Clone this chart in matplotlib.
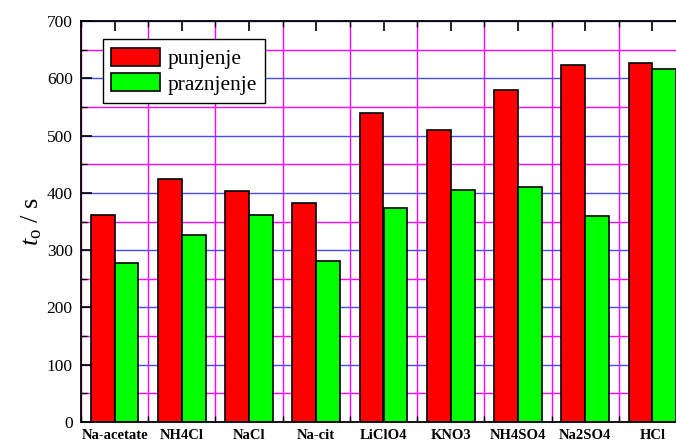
import numpy as np
import matplotlib
matplotlib.use("Agg")
from matplotlib import pyplot as plt
from matplotlib.ticker import MultipleLocator, FixedLocator

## Electrolyte names and times (s)
electrolytes = ["Na-acetate", "NH4Cl", "NaCl", "Na-cit", "LiClO4",
                "KNO3", "NH4SO4", "Na2SO4", "HCl"]
punjenje = [362, 424, 404, 383, 539, 510, 579, 624, 626]
praznjenje = [277, 327, 361, 281, 374, 405, 410, 360, 617]

plt.rcParams['font.family'] = 'Liberation Serif'
plt.rcParams['mathtext.fontset'] = 'custom'
plt.rcParams['mathtext.rm'] = 'Liberation Serif'
plt.rcParams['mathtext.it'] = 'Liberation Serif:italic'

fig = plt.figure(figsize=(6.76, 4.43), dpi=100)
## axes run a bit past the right edge of the figure
ax = fig.add_axes([81/676, 21/443, 605/676, 401/443])

x = np.arange(len(electrolytes))
w = 0.355
ax.bar(x - w/2, punjenje, w, color='#ff0000', edgecolor='black', linewidth=1.2, label='punjenje')
ax.bar(x + w/2, praznjenje, w, color='#00ff00', edgecolor='black', linewidth=1.2, label='praznjenje')

ax.set_xlim(-0.5, len(electrolytes) - 0.5)
ax.set_ylim(0, 700)
ax.set_xticks(x)
ax.set_xticklabels(electrolytes, fontweight='bold', fontsize=10.5)
ax.xaxis.set_minor_locator(FixedLocator(np.arange(-0.5, len(electrolytes), 1.0)))
ax.yaxis.set_major_locator(MultipleLocator(100))
ax.yaxis.set_minor_locator(MultipleLocator(50))

ax.set_axisbelow(True)
ax.grid(True, which='major', axis='y', color='#4848ff', linewidth=1.0)
ax.grid(True, which='minor', axis='y', color='#ff00ff', linewidth=1.0)
ax.grid(True, which='minor', axis='x', color='#ff00ff', linewidth=1.0)

ax.tick_params(axis='both', which='both', direction='in', top=True, right=True)
ax.tick_params(axis='y', which='major', length=8, width=1.2, labelsize=12.5, pad=6)
ax.tick_params(axis='y', which='minor', length=4, width=1.0)
ax.tick_params(axis='x', which='major', length=7, width=1.2, bottom=False, pad=5)
ax.tick_params(axis='x', which='minor', length=4, width=1.0)
for s in ax.spines.values():
    s.set_linewidth(1.3)

ax.set_ylabel(r'$t_\mathrm{o}$ / s', fontsize=19, labelpad=2)

ax.legend(loc='upper left', bbox_to_anchor=(0.036, 0.955), fontsize=15.5,
          frameon=True, fancybox=False, edgecolor='black', framealpha=1,
          handlelength=2.25, handleheight=0.9, borderpad=0.4,
          labelspacing=0.2, handletextpad=0.35, borderaxespad=0)

fig.savefig('out.png', dpi=100)
